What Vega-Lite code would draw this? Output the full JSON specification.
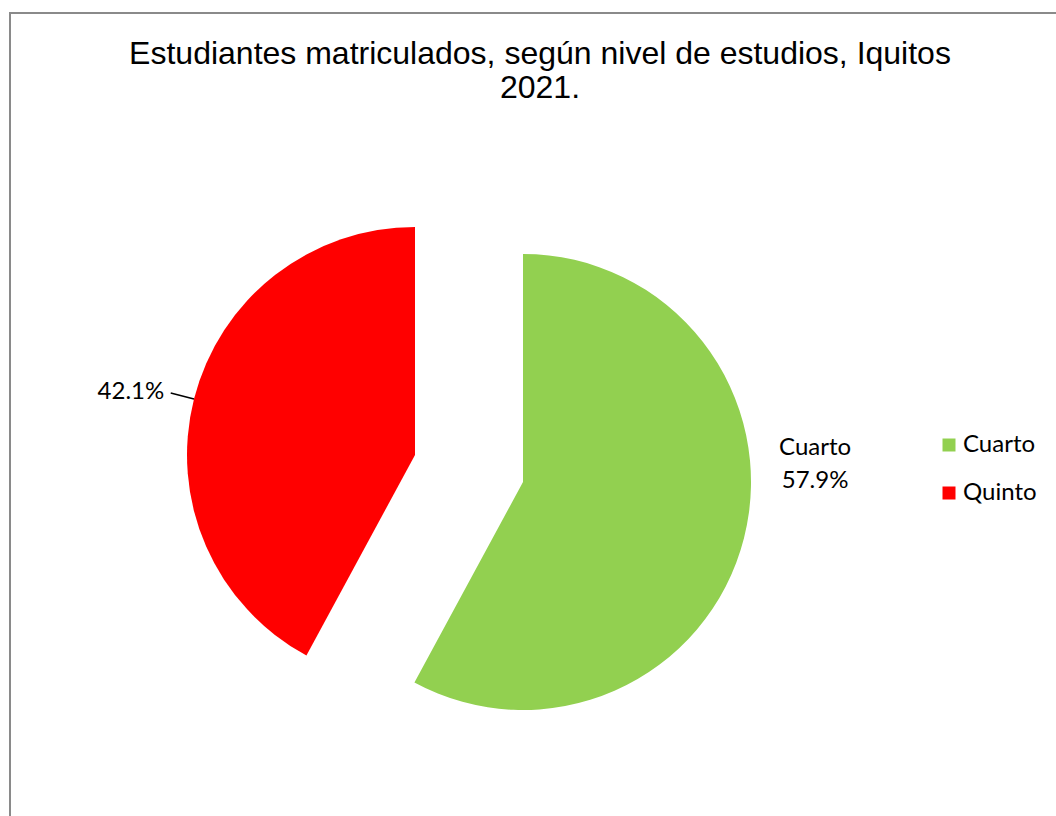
{
  "$schema": "https://vega.github.io/schema/vega-lite/v6.json",
  "width": 1060,
  "height": 820,
  "autosize": {"type": "none"},
  "padding": {"left": 10, "top": 13, "right": 0, "bottom": 0},
  "background": "white",
  "view": {"stroke": "#8a8a8a", "strokeWidth": 2, "fill": "white"},
  "title": {
    "text": ["Estudiantes matriculados, según nivel de estudios, Iquitos", "2021."],
    "font": "Liberation Sans",
    "fontSize": 32,
    "fontWeight": "normal",
    "color": "black",
    "anchor": "middle",
    "offset": -92,
    "lineHeight": 34
  },
  "data": {
    "values": [
      {"nivel": "Cuarto", "porcentaje": 57.9, "etiqueta": ["Cuarto", "57.9%"]},
      {"nivel": "Quinto", "porcentaje": 42.1, "etiqueta": "42.1%"}
    ]
  },
  "layer": [
    {
      "mark": {
        "type": "arc",
        "outerRadius": 228,
        "xOffset": {"expr": "datum.nivel === 'Cuarto' ? -17 : -125"},
        "yOffset": {"expr": "datum.nivel === 'Cuarto' ? 59 : 32"}
      },
      "encoding": {
        "theta": {"field": "porcentaje", "type": "quantitative", "stack": true},
        "order": {"field": "nivel", "sort": "ascending"},
        "color": {
          "field": "nivel",
          "type": "nominal",
          "scale": {"domain": ["Cuarto", "Quinto"], "range": ["#92D050", "#FF0000"]},
          "legend": {
            "orient": "none",
            "legendX": 927,
            "legendY": 420,
            "title": null,
            "labelFont": "Lato",
            "labelFontSize": 24,
            "labelColor": "black",
            "labelOffset": 2,
            "symbolType": "square",
            "symbolSize": 169,
            "symbolStrokeWidth": 0,
            "rowPadding": 24
          }
        }
      }
    },
    {
      "mark": {
        "type": "text",
        "radius": 292,
        "font": "Lato",
        "fontSize": 24,
        "lineHeight": 33,
        "align": "center",
        "baseline": "middle",
        "color": "black",
        "xOffset": {"expr": "datum.nivel === 'Cuarto' ? -17 : -125"},
        "yOffset": {"expr": "datum.nivel === 'Cuarto' ? 59 : 32"},
        "dx": {"expr": "datum.nivel === 'Cuarto' ? 9 : -1"},
        "dy": {"expr": "datum.nivel === 'Cuarto' ? -106 : 9"}
      },
      "encoding": {
        "theta": {"field": "porcentaje", "type": "quantitative", "stack": true},
        "order": {"field": "nivel", "sort": "ascending"},
        "detail": {"field": "nivel"},
        "text": {"field": "etiqueta"}
      }
    },
    {
      "transform": [
        {"window": [{"op": "sum", "field": "porcentaje", "as": "acum"}]},
        {"calculate": "datum.acum - datum.porcentaje / 2", "as": "medio"},
        {"filter": "datum.nivel === 'Quinto'"}
      ],
      "mark": {
        "type": "arc",
        "radius": 252,
        "radius2": 228,
        "fill": null,
        "stroke": "black",
        "strokeWidth": 1.5,
        "xOffset": -125,
        "yOffset": 32
      },
      "encoding": {
        "theta": {"field": "medio", "type": "quantitative", "stack": null},
        "theta2": {"field": "medio"}
      }
    }
  ]
}
